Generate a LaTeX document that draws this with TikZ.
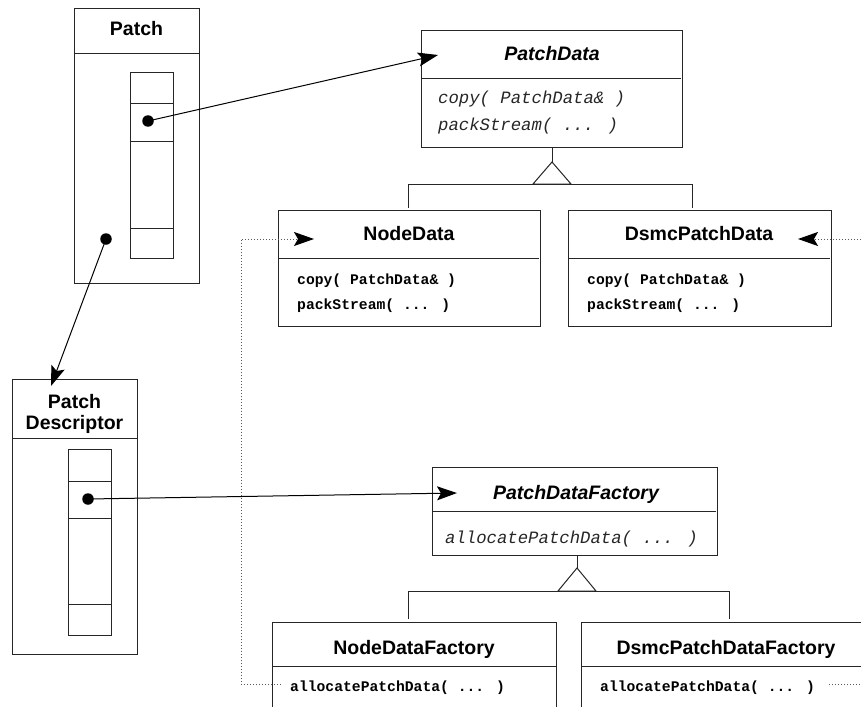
\documentclass[tikz,border=0pt]{standalone}
\usepackage{fontspec}
\setmainfont{Liberation Sans}
\newfontfamily\monofont{Liberation Mono}
\usetikzlibrary{arrows.meta}
\tikzset{
  box/.style={draw=black!85, line width=1pt, anchor=north west, inner sep=0pt, outer sep=0pt},
  sepline/.style={draw=black!85, line width=1pt},
  title/.style={anchor=base, inner sep=0pt, font=\bfseries\fontsize{19.5}{21}\selectfont},
  atitle/.style={anchor=base, inner sep=0pt, font=\bfseries\itshape\fontsize{19.5}{21}\selectfont},
  meth/.style={anchor=base west, inner sep=0pt, font=\monofont\bfseries\fontsize{14.7}{16}\selectfont},
  ameth/.style={anchor=base west, inner sep=0pt, text=black!85, font=\monofont\itshape\fontsize{17.3}{18}\selectfont},
  ptr/.style={draw=black, line width=1pt, -{Stealth[length=20pt,width=14pt,inset=4pt]}},
  dotline/.style={draw=black!65, line width=1pt, dash pattern=on 1pt off 2pt,
     -{Stealth[length=20pt,width=14pt,inset=4pt,color=black,fill=black]}},
  blob/.style={circle, fill=black, inner sep=0pt, minimum size=11.5pt},
  inh/.style={draw=black!85, line width=1pt},
}
\begin{document}
\begin{tikzpicture}[x=1pt,y=-1pt]
\useasboundingbox (0,0) rectangle (861,706);
\fill[white] (0,0) rectangle (861,706);
\clip (0,0) rectangle (861,706);

% ---------- Patch ----------
\node[box, minimum width=125pt, minimum height=274pt] (patch) at (74,9) {};
\draw[sepline] (74,54) -- (199,54);
\node[title] (patcht) at (136.5,36) {Patch};
\node[box, minimum width=43pt, minimum height=185pt] (parr) at (130,73) {};
\draw[sepline] (130,104) -- (173,104);
\draw[sepline] (130,141) -- (173,141);
\draw[sepline] (130,228) -- (173,228);

% ---------- Patch Descriptor ----------
\node[box, minimum width=125pt, minimum height=275pt] (pdesc) at (12,379) {};
\draw[sepline] (12,438) -- (137,438);
\node[title] (pdesct1) at (74.5,408) {Patch};
\node[title] (pdesct2) at (74.5,429) {Descriptor};
\node[box, minimum width=43pt, minimum height=186pt] (darr) at (68,449) {};
\draw[sepline] (68,481) -- (111,481);
\draw[sepline] (68,518) -- (111,518);
\draw[sepline] (68,604) -- (111,604);

% ---------- PatchData ----------
\node[box, minimum width=261pt, minimum height=116pt] (pd) at (421,31) {};
\draw[sepline] (421,79) -- (681,79);
\node[atitle] (pdt) at (552,61) {PatchData};
\node[ameth] (pdm1) at (438,104) {copy( PatchData\& )};
\node[ameth] (pdm2) at (438,130) {packStream( ... )};

% ---------- NodeData ----------
\node[box, minimum width=262pt, minimum height=116pt] (nd) at (278,210) {};
\draw[sepline] (278,258) -- (539,258);
\node[title] (ndt) at (409,240) {NodeData};
\node[meth] (ndm1) at (297,284) {copy( PatchData\& )};
\node[meth] (ndm2) at (297,309) {packStream( ... )};

% ---------- DsmcPatchData ----------
\node[box, minimum width=263pt, minimum height=116pt] (dd) at (568,210) {};
\draw[sepline] (568,258) -- (830,258);
\node[title] (ddt) at (699,240) {DsmcPatchData};
\node[meth] (ddm1) at (587,284) {copy( PatchData\& )};
\node[meth] (ddm2) at (587,309) {packStream( ... )};

% ---------- PatchDataFactory ----------
\node[box, minimum width=285pt, minimum height=88pt] (pf) at (432,467) {};
\draw[sepline] (432,511) -- (716,511);
\node[atitle] (pft) at (576,499) {PatchDataFactory};
\node[ameth] (pfm) at (445,543) {allocatePatchData( ... )};

% ---------- NodeDataFactory ----------
\node[box, minimum width=284pt, minimum height=130pt] (nf) at (272,622) {};
\draw[sepline] (272,666) -- (556,666);
\node[title] (nft) at (414,654) {NodeDataFactory};
\node[meth] (nfm) at (290,691) {allocatePatchData( ... )};

% ---------- DsmcPatchDataFactory ----------
\node[box, minimum width=292pt, minimum height=130pt] (df) at (581,622) {};
\draw[sepline] (581,666) -- (873,666);
\node[title] (dft) at (726,654) {DsmcPatchDataFactory};
\node[meth] (dfm) at (600,691) {allocatePatchData( ... )};

% ---------- inheritance PatchData ----------
\coordinate (apex1) at (552,162);
\draw[inh] (apex1 |- pd.south) -- (apex1);
\draw[inh] (apex1) -- (533,184) -- (571,184) -- cycle;
\coordinate (j1l) at (408,184);
\coordinate (j1r) at (692,184);
\draw[inh] (408,208) -- (j1l) -- (j1r) -- (692,208);

% ---------- inheritance PatchDataFactory ----------
\coordinate (apex2) at (577,568);
\draw[inh] (apex2 |- pf.south) -- (apex2);
\draw[inh] (apex2) -- (558,591) -- (596,591) -- cycle;
\coordinate (j2l) at (408,591);
\coordinate (j2r) at (729,591);
\draw[inh] (408,619) -- (j2l) -- (j2r) -- (729,619);

% ---------- pointer dots and arrows ----------
\node[blob] (d1) at (148,121) {};
\node[blob] (d2) at (106,239) {};
\node[blob] (d3) at (88,499) {};
\coordinate (pdin) at (438,55);
\coordinate (descin) at (51,386);
\coordinate (pfin) at (457,493);
\draw[ptr] (d1.center) -- (pdin);
\draw[ptr] (d2.center) -- (descin);
\draw[ptr] (d3.center) -- (pfin);

% ---------- dotted connectors ----------
\coordinate (ndin) at (314,239);
\coordinate (ndout) at (281,684);
\draw[dotline] (ndout) -- (241,684) -- (241,239) -- (ndin);
\coordinate (ddin) at (798,239);
\coordinate (dfout) at (829,684);
\draw[dotline] (dfout) -- (885,684) -- (885,239) -- (ddin);
\end{tikzpicture}
\end{document}
